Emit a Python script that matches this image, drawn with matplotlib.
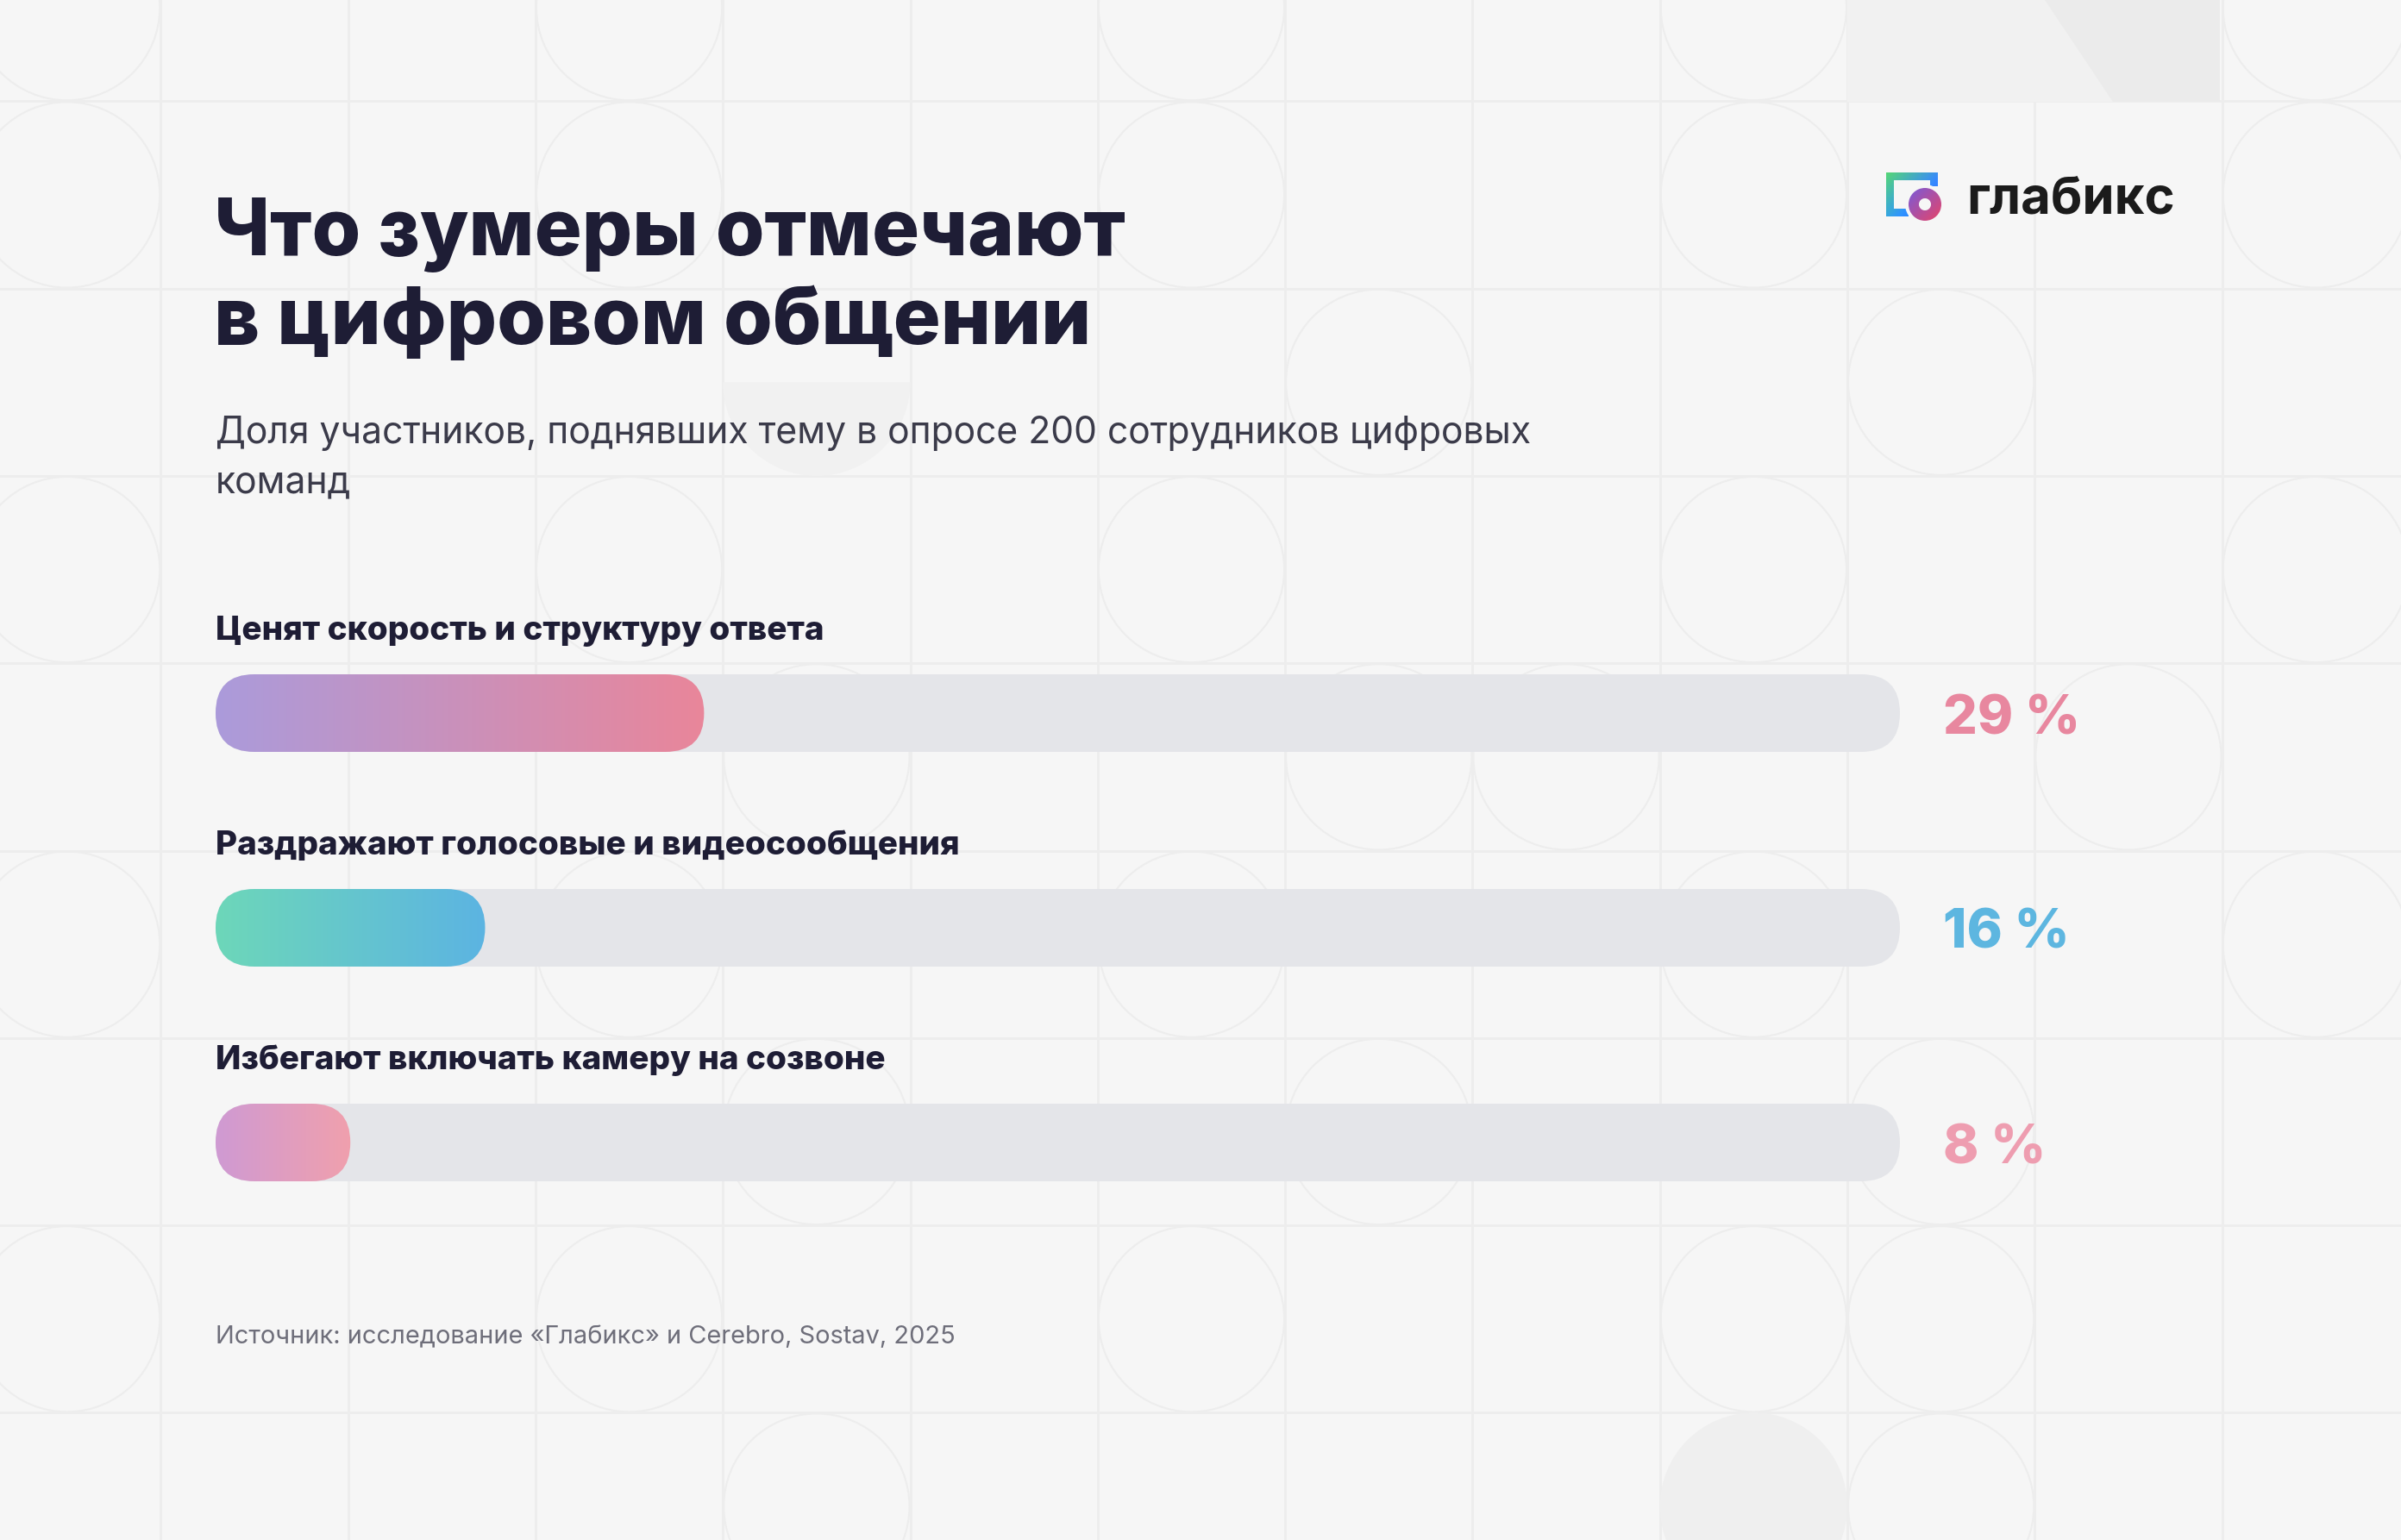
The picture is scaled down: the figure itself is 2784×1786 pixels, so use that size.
import numpy as np
import matplotlib
matplotlib.use("Agg")
import matplotlib.pyplot as plt
from matplotlib.patches import FancyBboxPatch, Circle, Wedge, Rectangle, Polygon, PathPatch
from matplotlib.path import Path
from matplotlib.colors import to_rgb

plt.rcParams['font.family'] = ['Inter', 'DejaVu Sans']

# --- data ---
categories = [
    "Ценят скорость и структуру ответа",
    "Раздражают голосовые и видеосообщения",
    "Избегают включать камеру на созвоне",
]
values = [29, 16, 8]
value_labels = ["29 %", "16 %", "8 %"]
start_colors = ["#ab9bdb", "#6dd7b9", "#cf9ad3"]
end_colors = ["#e9869a", "#5cb4e2", "#f0a0ad"]
label_colors = ["#e8879f", "#5db6e0", "#ee9db0"]

title = "Что зумеры отмечают\nв цифровом общении"
subtitle = "Доля участников, поднявших тему в опросе 200 сотрудников цифровых\nкоманд"
source = "Источник: исследование «Глабикс» и Cerebro, Sostav, 2025"

W, H = 2784, 1786
BG = "#f6f6f6"
LINE = "#ededed"
DARK = "#1e1d35"


def gradient(c0, c1, n=256):
    a, b = np.array(to_rgb(c0)), np.array(to_rgb(c1))
    t = np.linspace(0, 1, n)[:, None]
    return (a + (b - a) * t)[None, :, :]


fig = plt.figure(figsize=(W / 100, H / 100), dpi=100, facecolor=BG)

# background layer in pixel coords
bg = fig.add_axes([0, 0, 1, 1], zorder=0)
bg.set_xlim(0, W)
bg.set_ylim(H, 0)
bg.axis("off")
bg.set_facecolor(BG)

cell = 217.3
x0, y0 = -31, -100
for k in range(15):
    bg.axvline(x0 + k * cell, color=LINE, lw=2.0, zorder=1)
    bg.axhline(y0 + k * cell, color=LINE, lw=2.0, zorder=1)

# decorative circles (col, row)
circle_cells = [(0, 0), (3, 0), (6, 0), (9, 0), (12, 0),
                (0, 1), (3, 1), (6, 1), (9, 1), (12, 1),
                (7, 2), (10, 2),
                (0, 3), (3, 3), (6, 3), (9, 3), (12, 3),
                (4, 4), (7, 4), (8, 4), (11, 4),
                (0, 5), (3, 5), (6, 5), (9, 5), (12, 5),
                (4, 6), (7, 6), (10, 6),
                (0, 7), (3, 7), (6, 7), (9, 7), (10, 7),
                (4, 8), (10, 8)]
for c, r in circle_cells:
    cx, cy = x0 + (c + 0.5) * cell, y0 + (r + 0.5) * cell
    bg.add_patch(Circle((cx, cy), cell / 2 - 1, fill=False, ec=LINE, lw=1.5, zorder=1))

# filled ghost shapes
bg.add_patch(Circle((x0 + 9.5 * cell, y0 + 8.5 * cell), cell / 2, fc="#efefef", ec="none", zorder=1))
bg.add_patch(Wedge((x0 + 4.5 * cell, y0 + 2.5 * cell), cell / 2, 0, 180, fc="#f1f1f1", ec="none", zorder=1))

# top-right shaded block
bg.add_patch(Rectangle((2142, 0), 432, 118, fc="#f1f1f1", ec="none", zorder=1.5))
bg.add_patch(Polygon([(2371, 0), (2574, 0), (2574, 118), (2450, 118)], fc="#ebebeb", ec="none", zorder=1.6))

# logo icon
sq = [Path.unit_rectangle().transformed(matplotlib.transforms.Affine2D().scale(w, h).translate(x, y))
      for x, y, w, h in [(2187, 200, 60, 9), (2187, 200, 9, 51), (2187, 242, 26, 9), (2238, 200, 9, 16)]]
bracket = PathPatch(Path.make_compound_path(*sq), fc="none", ec="none", transform=bg.transData)
bg.add_patch(bracket)
grid_img = np.zeros((50, 50, 3))
tl, tr, bl = np.array(to_rgb("#55d676")), np.array(to_rgb("#3b8ff0")), np.array(to_rgb("#36a6e0"))
for i in range(50):
    for j in range(50):
        u, v = j / 49, i / 49
        grid_img[i, j] = tl + (tr - tl) * u + (bl - tl) * v
im = bg.imshow(grid_img, extent=(2187, 2247, 251, 200), aspect="auto", zorder=3)
im.set_clip_path(bracket)
bg.add_patch(Circle((2232, 237), 23, fc=BG, ec="none", zorder=3.5))
ring = Wedge((2232, 237), 19, 0, 360, width=12, fc="none", ec="none")
bg.add_patch(ring)
ring_img = np.zeros((40, 40, 3))
p0, p1 = np.array(to_rgb("#7a5ad8")), np.array(to_rgb("#e5456a"))
for i in range(40):
    for j in range(40):
        t = (i + j) / 78
        ring_img[i, j] = p0 + (p1 - p0) * t
im2 = bg.imshow(ring_img, extent=(2213, 2251, 256, 218), aspect="auto", zorder=4)
im2.set_clip_path(ring)
bg.set_xlim(0, W)
bg.set_ylim(H, 0)

bg.text(2280, 248, "глабикс", fontsize=43, fontweight="bold", color="#1b1b1b",
        va="baseline", ha="left", zorder=5)

# titles
t1, t2 = title.split("\n")
bg.text(248, 296, t1, fontsize=66, fontweight=800, color=DARK, va="baseline", zorder=5)
bg.text(248, 399, t2, fontsize=66, fontweight=800, color=DARK, va="baseline", zorder=5)
sub = subtitle.split("\n")
bg.text(250, 514, sub[0], fontsize=30.7, color="#3b3b4a", va="baseline", zorder=5)
bg.text(250, 571, sub[1], fontsize=30.7, color="#3b3b4a", va="baseline", zorder=5)
bg.text(250, 1558, source, fontsize=20.9, color="#6e6e7a", va="baseline", zorder=5)

# bar axes
left_px, right_px = 250, 2203
top_px, bot_px = 702.5, 1449.5
ax = fig.add_axes([left_px / W, 1 - bot_px / H, (right_px - left_px) / W, (bot_px - top_px) / H], zorder=2)
ax.axis("off")
ax.patch.set_alpha(0)

n = len(values)
px_x = (right_px - left_px) / 100.0
px_y = (bot_px - top_px) / n
bar_px = 90
h = bar_px / px_y
asp = px_x / px_y
rnd = bar_px / 2 / px_x

for i, (cat, v) in enumerate(zip(categories, values)):
    track = FancyBboxPatch((0, i - h / 2), 100, h, boxstyle=f"round,pad=0,rounding_size={rnd}",
                           mutation_aspect=asp, fc="#e4e5e9", ec="none", zorder=1)
    ax.add_patch(track)
    fill = FancyBboxPatch((0, i - h / 2), v, h, boxstyle=f"round,pad=0,rounding_size={rnd}",
                          mutation_aspect=asp, fc="none", ec="none", zorder=2)
    ax.add_patch(fill)
    g = ax.imshow(gradient(start_colors[i], end_colors[i]), extent=(0, v, i + h / 2, i - h / 2),
                  aspect="auto", zorder=2, interpolation="bilinear")
    g.set_clip_path(fill)
    ax.annotate(cat, xy=(0, i), xytext=(0, 85 * 0.72), textcoords="offset points",
                fontsize=27.8, fontweight=800, color=DARK, ha="left", va="baseline")
    ax.annotate(value_labels[i], xy=(100, i), xytext=(50 * 0.72, -24 * 0.72), textcoords="offset points",
                fontsize=45, fontweight=800, color=label_colors[i], ha="left", va="baseline")

ax.set_xlim(0, 100)
ax.set_ylim(n - 0.5, -0.5)

fig.savefig("out.png", dpi=100, facecolor=BG)
